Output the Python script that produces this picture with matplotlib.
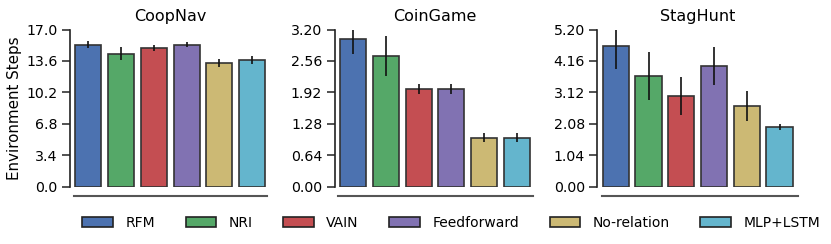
import numpy as np
import matplotlib
matplotlib.use("Agg")
import matplotlib.pyplot as plt
from matplotlib.patches import Patch

# methods and colours (old seaborn "deep" palette)
methods = ["RFM", "NRI", "VAIN", "Feedforward", "No-relation", "MLP+LSTM"]
colors = ["#4C72B0", "#55A868", "#C44E52", "#8172B2", "#CCB974", "#64B5CD"]

envs = ["CoopNav", "CoinGame", "StagHunt"]
ymax = [17.0, 3.20, 5.20]
tick_fmt = ["%.1f", "%.2f", "%.2f"]

# mean environment steps and error bar half-widths
coopnav_mean = [15.37, 14.4, 15.0, 15.37, 13.4, 13.7]
coopnav_err = [0.4, 0.7, 0.35, 0.3, 0.4, 0.45]
coingame_mean = [3.0, 2.66, 1.99, 1.99, 1.0, 1.0]
coingame_err = [0.3, 0.41, 0.1, 0.1, 0.095, 0.095]
staghunt_mean = [4.65, 3.66, 3.0, 3.99, 2.67, 1.98]
staghunt_err = [0.77, 0.8, 0.63, 0.63, 0.5, 0.09]

means = [coopnav_mean, coingame_mean, staghunt_mean]
errs = [coopnav_err, coingame_err, staghunt_err]

plt.rcParams["font.family"] = "DejaVu Sans"

fig = plt.figure(figsize=(8.31, 2.44), dpi=100)

# axes layout in figure fractions
lefts = [0.0866, 0.4052, 0.7213]
spine_bounds = [(-0.44, 5.45), (-0.45, 5.5), (-0.42, 5.55)]

for i in range(3):
    ax = fig.add_axes([lefts[i], 0.2348, 0.2365, 0.644])
    x = np.arange(len(methods))
    ax.bar(x, means[i], width=0.8, color=colors, edgecolor="#333333",
           linewidth=1.2, zorder=2)
    ax.errorbar(x, means[i], yerr=errs[i], fmt="none", ecolor="#111111",
                elinewidth=1.2, capsize=0, zorder=3)
    ax.set_xlim(-0.5, 5.5)
    ax.set_ylim(0, ymax[i])
    yt = np.linspace(0, ymax[i], 6)
    ax.set_yticks(yt)
    ax.set_yticklabels([tick_fmt[i] % v for v in yt])
    ax.set_xticks([])
    ax.tick_params(axis="y", length=6, width=1.1, pad=3, labelsize=10.2,
                   color="#222222")
    ax.set_title(envs[i], fontsize=11.5, pad=6)

    ax.spines["top"].set_visible(False)
    ax.spines["right"].set_visible(False)
    ax.spines["left"].set_position(("outward", 1.5))
    ax.spines["left"].set_bounds(0, ymax[i])
    ax.spines["left"].set_color("#222222")
    ax.spines["left"].set_linewidth(1.2)
    ax.spines["bottom"].set_position(("outward", 6.5))
    ax.spines["bottom"].set_bounds(*spine_bounds[i])
    ax.spines["bottom"].set_color("#555555")
    ax.spines["bottom"].set_linewidth(1.5)
    if i == 0:
        ax.set_ylabel("Environment Steps", fontsize=10.9, labelpad=3)

handles = [Patch(facecolor=c, edgecolor="#222222", linewidth=1.2, label=m)
           for m, c in zip(methods, colors)]
fig.legend(handles=handles, loc="center", bbox_to_anchor=(0.543, 0.087),
           ncol=6, frameon=False, fontsize=10, handlelength=2.2,
           handleheight=0.8, handletextpad=0.9, columnspacing=2.2)

fig.savefig("out.png", dpi=100)
